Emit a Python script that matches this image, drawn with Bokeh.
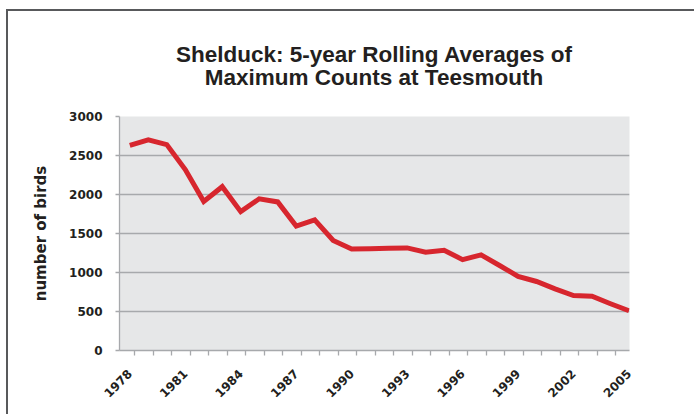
import math
from bokeh.plotting import figure
from bokeh.layouts import column
from bokeh.models import Range1d, FixedTicker, Div
from bokeh.embed import file_html
from bokeh.resources import INLINE

# ---- data ----
years = list(range(1978, 2006))
birds = [2630, 2700, 2640, 2320, 1910, 2100, 1780, 1945, 1905, 1595,
         1675, 1410, 1300, 1305, 1310, 1315, 1260, 1285, 1165, 1225,
         1090, 950, 885, 790, 705, 695, 600, 510]
label_years = [1978, 1981, 1984, 1987, 1990, 1993, 1996, 1999, 2002, 2005]
y_ticks = [0, 500, 1000, 1500, 2000, 2500, 3000]

title_line1 = "Shelduck: 5-year Rolling Averages of"
title_line2 = "Maximum Counts at Teesmouth"
y_label = "number of birds"

TEXT = "#231f20"
GRID = "#a7a9ac"
AXIS_FONT = "DejaVu Sans"

# ---- title block ----
title_html = (
    '<div style="margin-left:111px; width:510px; padding-top:32px; text-align:center; '
    "font-family:'Liberation Sans', Arial, sans-serif; font-weight:bold; font-size:22.5px; "
    f'line-height:23px; color:{TEXT};">{title_line1}<br>{title_line2}</div>'
)
title_div = Div(text=title_html, width=686, height=95, margin=0)

# ---- chart ----
fig = figure(width=686, height=308,
             x_range=Range1d(1977.443, 2005.027), y_range=Range1d(0, 3000),
             output_backend="svg", toolbar_location=None,
             min_border_left=111, min_border_right=65,
             min_border_top=10, min_border_bottom=64)
fig.margin = 0
fig.background_fill_color = "#e6e7e8"
fig.border_fill_color = "white"
fig.outline_line_color = None

# x axis
xt = FixedTicker(ticks=label_years, minor_ticks=[y + 0.28 for y in years[:-1]])
xa = fig.xaxis[0]
xa.ticker = xt
xa.major_tick_out = 0
xa.major_tick_in = 0
xa.minor_tick_out = 5
xa.minor_tick_in = 0
xa.minor_tick_line_color = GRID
xa.minor_tick_line_width = 1.3
xa.axis_line_color = GRID
xa.axis_line_width = 1.3
xa.major_label_orientation = math.pi / 4
xa.major_label_text_font = AXIS_FONT
xa.major_label_text_font_size = "12px"
xa.major_label_text_font_style = "bold"
xa.major_label_text_color = TEXT
xa.major_label_standoff = 16

# y axis
yt = FixedTicker(ticks=y_ticks, minor_ticks=[])
ya = fig.yaxis[0]
ya.ticker = yt
ya.major_tick_out = 4
ya.major_tick_in = 0
ya.minor_tick_out = 0
ya.minor_tick_in = 0
ya.major_tick_line_color = GRID
ya.major_tick_line_width = 1.3
ya.axis_line_color = GRID
ya.axis_line_width = 1.3
ya.major_label_text_font = AXIS_FONT
ya.major_label_text_font_size = "12px"
ya.major_label_text_font_style = "bold"
ya.major_label_text_color = TEXT
ya.major_label_standoff = 13
ya.axis_label = y_label
ya.axis_label_text_font = AXIS_FONT
ya.axis_label_text_font_size = "15px"
ya.axis_label_text_font_style = "bold"
ya.axis_label_text_color = TEXT
ya.axis_label_standoff = 16

fig.xgrid.visible = False
fig.ygrid.ticker = yt
fig.ygrid.grid_line_color = GRID
fig.ygrid.grid_line_width = 1.3

fig.line(years, birds, line_color="#d7262e", line_width=5, line_join="miter")

p = column(title_div, fig, spacing=0)
p.styles = {"border-top": "2px solid #58595b", "border-left": "2px solid #58595b",
            "margin-left": "6px", "margin-top": "9px"}

open("out.html", "w").write(file_html(p, INLINE))
